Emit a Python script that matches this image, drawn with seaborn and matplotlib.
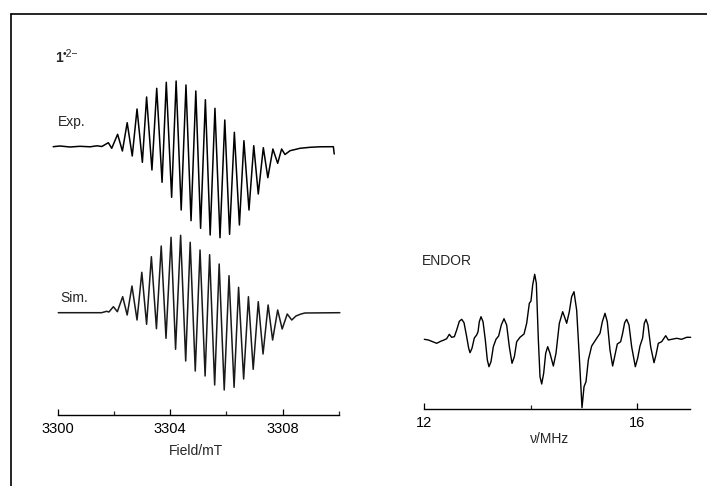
import seaborn as sns
import matplotlib.pyplot as plt
import pandas as pd
from matplotlib.lines import Line2D

# EPR spectrum of 1(.2-): experimental trace (field in mT, signal in arb. units)
exp_field = [3299.84, 3300.08, 3300.44, 3300.79, 3301.15, 3301.40, 3301.57,
             3301.80, 3301.92, 3302.13, 3302.30, 3302.47, 3302.65, 3302.82,
             3303.01, 3303.16, 3303.35, 3303.52, 3303.71, 3303.86, 3304.05,
             3304.21, 3304.39, 3304.56, 3304.74, 3304.91, 3305.08, 3305.25,
             3305.42, 3305.59, 3305.77, 3305.94, 3306.11, 3306.28, 3306.46,
             3306.62, 3306.80, 3306.97, 3307.13, 3307.31, 3307.47, 3307.65,
             3307.82, 3307.96, 3308.08, 3308.26, 3308.44, 3308.61, 3308.97,
             3309.32, 3309.80, 3309.83]
exp_signal = [-0.2, 0.5, -0.5, 0.2, -0.3, 0.7, 0.0,
              3.8, -1.8, 12.2, -4.5, 23.8, -9.5, 37.5,
              -15.8, 49.5, -23.5, 58.2, -35.8, 64.2, -50.8,
              65.5, -63.5, 61.5, -74.2, 55.5, -81.8, 46.8,
              -88.5, 38.2, -91.2, 26.5, -87.8, 14.2, -78.5,
              5.8, -63.5, 0.8, -47.5, -1.2, -31.2, -2.5,
              -16.8, -2.5, -8.0, -4.2, -3.0, -1.8, -0.8,
              -0.3, -0.2, -7.5]

# simulated trace
sim_field = [3300.02, 3301.56, 3301.74, 3301.82, 3301.98, 3302.12, 3302.31,
             3302.47, 3302.64, 3302.82, 3302.99, 3303.16, 3303.33, 3303.51,
             3303.68, 3303.85, 3304.03, 3304.19, 3304.37, 3304.55, 3304.71,
             3304.89, 3305.06, 3305.24, 3305.40, 3305.58, 3305.74, 3305.92,
             3306.09, 3306.27, 3306.43, 3306.61, 3306.78, 3306.95, 3307.13,
             3307.30, 3307.48, 3307.64, 3307.82, 3307.98, 3308.16, 3308.32,
             3308.47, 3308.65, 3308.79, 3310.03]
sim_signal = [0.0, 0.0, 1.4, 0.7, 6.0, 1.0, 16.0,
              -2.3, 26.7, -7.3, 40.4, -11.6, 56.0, -16.0,
              66.7, -25.6, 75.4, -36.6, 77.4, -48.3, 70.4,
              -58.3, 62.7, -63.3, 58.0, -72.3, 48.7, -77.3,
              37.0, -74.6, 25.4, -66.3, 16.0, -56.6, 11.0,
              -41.3, 7.7, -27.3, 2.7, -16.3, -1.3, -7.3,
              -3.3, -1.3, -0.3, 0.0]

# ENDOR trace (frequency in MHz)
endor_freq = [12.00, 12.076, 12.139, 12.233, 12.308, 12.371, 12.421, 12.471,
              12.515, 12.566, 12.610, 12.660, 12.704, 12.748, 12.798, 12.836,
              12.861, 12.898, 12.942, 12.986, 13.012, 13.036, 13.068, 13.106,
              13.149, 13.187, 13.218, 13.256, 13.300, 13.350, 13.400, 13.450,
              13.501, 13.551, 13.601, 13.652, 13.696, 13.740, 13.802, 13.878,
              13.928, 13.978, 14.009, 14.041, 14.079, 14.110, 14.148, 14.179,
              14.211, 14.248, 14.286, 14.324, 14.367, 14.430, 14.480, 14.543,
              14.606, 14.650, 14.681, 14.731, 14.775, 14.819, 14.869, 14.919,
              14.970, 15.008, 15.045, 15.089, 15.152, 15.246, 15.309, 15.353,
              15.403, 15.446, 15.497, 15.547, 15.591, 15.635, 15.698, 15.735,
              15.773, 15.810, 15.855, 15.905, 15.974, 16.018, 16.062, 16.112,
              16.143, 16.175, 16.212, 16.263, 16.326, 16.363, 16.407, 16.470,
              16.546, 16.596, 16.659, 16.753, 16.847, 16.941, 17.016]
endor_signal = [-0.3, -1.0, -2.3, -4.3, -2.3, -1.0, 0.3, 4.7,
                1.7, 2.3, 9.0, 17.7, 19.7, 16.3, 2.3, -9.3,
                -13.7, -9.3, 1.0, 4.0, 7.3, 17.3, 22.3, 17.3,
                -1.0, -21.0, -27.7, -22.7, -7.7, -0.3, 3.0, 14.0,
                20.3, 14.0, -7.7, -24.3, -17.7, -2.7, 1.7, 5.0,
                15.7, 35.7, 38.0, 54.0, 64.7, 55.7, -1.0, -37.7,
                -45.0, -34.3, -14.3, -7.7, -14.3, -27.0, -14.3, 15.7,
                27.3, 20.7, 15.7, 27.3, 42.3, 47.3, 29.0, -17.7,
                -68.7, -47.7, -42.7, -21.0, -7.0, 0.7, 5.7, 17.3,
                25.7, 17.3, -11.0, -27.0, -16.0, -5.0, -2.7, 5.7,
                16.3, 19.7, 14.0, -7.7, -27.7, -19.3, -7.0, 1.0,
                15.7, 19.7, 14.0, -7.7, -23.7, -16.0, -4.3, -2.7,
                3.3, -1.0, -0.3, 0.7, -0.3, 1.7, 1.7]

field_ticks = [3300, 3304, 3308]
field_minor = [3302, 3306, 3310]
freq_ticks = [12, 16]
freq_minor = [14]

sns.set_theme(style="white")
plt.rcParams["font.family"] = ["Liberation Sans", "DejaVu Sans"]

W, H = 707, 486
fig = plt.figure(figsize=(W / 100, H / 100), dpi=100)


def px_axes(left, right, bottom, top):
    return fig.add_axes([left / W, 1 - bottom / H, (right - left) / W, (bottom - top) / H])


def style_axis(ax):
    for side in ["left", "right", "top"]:
        ax.spines[side].set_visible(False)
    ax.spines["bottom"].set_color("black")
    ax.spines["bottom"].set_linewidth(1.0)
    ax.set_yticks([])
    ax.tick_params(axis="x", which="major", direction="in", length=4.5,
                   width=0.9, pad=5, labelsize=10.5, colors="black", bottom=True)
    ax.tick_params(axis="x", which="minor", direction="in", length=2.6,
                   width=0.9, bottom=True)
    ax.set_ylabel("")
    ax.grid(False)
    ax.patch.set_alpha(0)


# left panel: EPR
ax1 = px_axes(57.7, 339.0, 415, 40)
exp_df = pd.DataFrame({"field": exp_field, "signal": exp_signal})
sim_df = pd.DataFrame({"field": sim_field, "signal": sim_signal})
exp_base, sim_base = 268.5, 102.3
sns.lineplot(x=exp_df["field"], y=exp_df["signal"] + exp_base, ax=ax1,
             sort=False, estimator=None, color="black", lw=1.1)
sns.lineplot(x=sim_df["field"], y=sim_df["signal"] + sim_base, ax=ax1,
             sort=False, estimator=None, color="#1a1a1a", lw=1.1)
ax1.set_xlim(3300, 3310)
ax1.set_ylim(0, 375)
style_axis(ax1)
ax1.set_xticks(field_ticks)
ax1.set_xticks(field_minor, minor=True)
ax1.set_xlabel("Field/mT", fontsize=10)
ax1.xaxis.set_label_coords(0.49, -0.078)

ax1.text(3299.9, 353, "1", fontsize=10, fontweight="bold", va="baseline")
ax1.text(3300.17, 358.5, "\u20222\u2212", fontsize=7.5, va="baseline")
ax1.text(3300.0, 289, "Exp.", fontsize=10, va="baseline")
ax1.text(3300.08, 113, "Sim.", fontsize=10, va="baseline")

# right panel: ENDOR
ax2 = px_axes(424.3, 689.8, 409, 250)
endor_df = pd.DataFrame({"freq": endor_freq, "signal": endor_signal})
endor_base = 70
sns.lineplot(x=endor_df["freq"], y=endor_df["signal"] + endor_base, ax=ax2,
             sort=False, estimator=None, color="black", lw=1.0)
ax2.set_xlim(12, 17)
ax2.set_ylim(0, 159)
style_axis(ax2)
ax2.set_xticks(freq_ticks)
ax2.set_xticks(freq_minor, minor=True)
ax2.set_xlabel("\u03bd/MHz", fontsize=10)
ax2.xaxis.set_label_coords(0.473, -0.145)
ax2.text(11.95, 144, "ENDOR", fontsize=10, va="baseline")

for ax in (ax1, ax2):
    for line in ax.lines:
        line.set_clip_on(False)

# frame lines along the top and left edge of the figure
fig.add_artist(Line2D([11 / W, 1], [1 - 14 / H, 1 - 14 / H], color="black", lw=1.2))
fig.add_artist(Line2D([11 / W, 11 / W], [0, 1 - 14 / H], color="black", lw=1.2))

fig.savefig("out.png", dpi=100)
